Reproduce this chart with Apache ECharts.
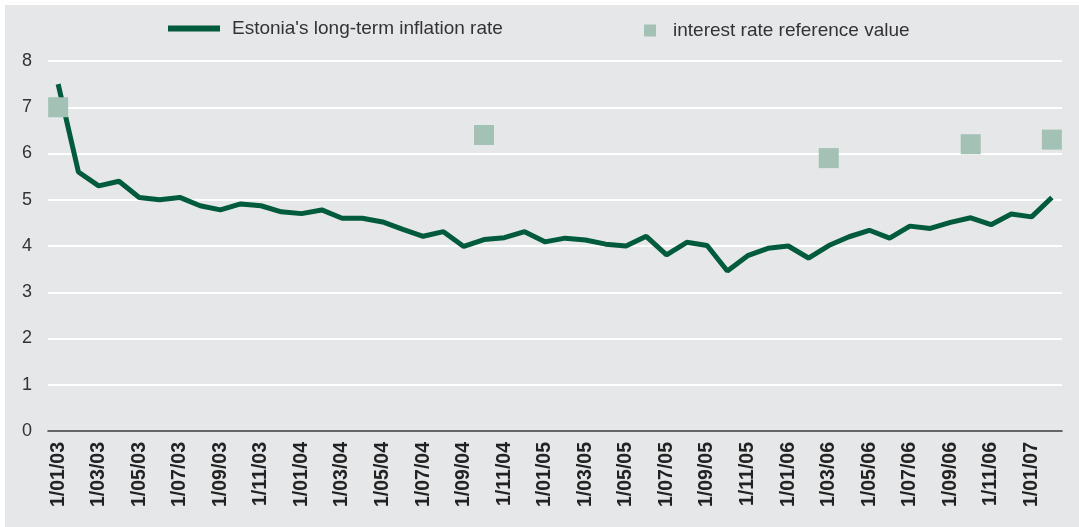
<!DOCTYPE html>
<html>
<head>
<meta charset="utf-8">
<script src="https://cdn.jsdelivr.net/npm/echarts@6/dist/echarts.min.js"></script>
<style>
  html, body { margin: 0; padding: 0; background: #ffffff; }
  #bg { position: absolute; left: 5px; top: 5px; width: 1074px; height: 522px; background: #e6e7e9; }
  #main { position: absolute; left: 0; top: 0; width: 1079px; height: 527px; }
</style>
</head>
<body>
<div id="bg"></div>
<div id="main"></div>
<script>
// monthly categories, Jan 2003 - Feb 2007
const months = [
  '1/01/03', '1/02/03', '1/03/03', '1/04/03', '1/05/03', '1/06/03', '1/07/03', '1/08/03', '1/09/03', '1/10/03', '1/11/03', '1/12/03',
  '1/01/04', '1/02/04', '1/03/04', '1/04/04', '1/05/04', '1/06/04', '1/07/04', '1/08/04', '1/09/04', '1/10/04', '1/11/04', '1/12/04',
  '1/01/05', '1/02/05', '1/03/05', '1/04/05', '1/05/05', '1/06/05', '1/07/05', '1/08/05', '1/09/05', '1/10/05', '1/11/05', '1/12/05',
  '1/01/06', '1/02/06', '1/03/06', '1/04/06', '1/05/06', '1/06/06', '1/07/06', '1/08/06', '1/09/06', '1/10/06', '1/11/06', '1/12/06',
  '1/01/07', '1/02/07'
]

const inflation = [
  7.5, 5.6, 5.3, 5.4, 5.05, 5.0, 5.05, 4.87, 4.78, 4.91, 4.87, 4.74,
  4.7, 4.78, 4.6, 4.6, 4.52, 4.36, 4.21, 4.31, 3.99, 4.14, 4.18, 4.31,
  4.09, 4.17, 4.13, 4.04, 4.0, 4.21, 3.81, 4.08, 4.01, 3.46, 3.79, 3.95,
  4.0, 3.74, 4.01, 4.2, 4.34, 4.17, 4.43, 4.38, 4.51, 4.61, 4.46, 4.69,
  4.63, 5.05
]

const refMonths = ['1/01/03', '1/10/04', '1/03/06', '1/10/06', '1/02/07']
const refValues = [7.0, 6.4, 5.9, 6.2, 6.3]

const yTicks = [0, 8, 1] // min, max, interval

const FONT = '"Liberation Sans", Arial, Helvetica, sans-serif'

const chart = echarts.init(document.getElementById('main'))

chart.setOption({
  animation: false,
  backgroundColor: 'transparent',
  textStyle: { fontFamily: FONT },
  legend: [
    {
      left: 168,
      top: 19,
      padding: 0,
      icon: 'rect',
      itemWidth: 52,
      itemHeight: 6,
      data: ['Estonia\'s long-term inflation rate'],
      textStyle: { fontSize: 19, color: '#333333', fontFamily: FONT, padding: [0, 0, 0, 7] }
    },
    {
      left: 644,
      top: 21,
      padding: 0,
      icon: 'rect',
      itemWidth: 12,
      itemHeight: 12,
      data: ['interest rate reference value'],
      textStyle: { fontSize: 19, color: '#333333', fontFamily: FONT, padding: [0, 0, 0, 12] }
    }
  ],
  grid: {
    left: 48,
    right: 17,
    top: 61,
    bottom: 96
  },
  xAxis: {
    type: 'category',
    data: months,
    boundaryGap: true,
    axisLine: { show: true, lineStyle: { color: '#333333', width: 1.5 } },
    axisTick: { show: false },
    axisLabel: {
      interval: 1,
      rotate: 90,
      margin: 11,
      fontSize: 19.5,
      fontWeight: 'bold',
      color: '#222222',
      fontFamily: FONT
    },
    splitLine: { show: false }
  },
  yAxis: {
    type: 'value',
    min: yTicks[0],
    max: yTicks[1],
    interval: yTicks[2],
    axisLine: { show: false },
    axisTick: { show: false },
    axisLabel: { margin: 16, fontSize: 18, color: '#333333', fontFamily: FONT },
    splitLine: { lineStyle: { color: '#ffffff', width: 2 } }
  },
  series: [
    {
      name: 'Estonia\'s long-term inflation rate',
      type: 'line',
      data: inflation,
      symbol: 'none',
      itemStyle: { color: '#005a3c' },
      lineStyle: { color: '#005a3c', width: 5 },
      z: 2
    },
    {
      name: 'interest rate reference value',
      type: 'scatter',
      data: refMonths.map((m, i) => [m, refValues[i]]),
      symbol: 'rect',
      symbolSize: 20,
      itemStyle: { color: '#a3c1b4', opacity: 1 },
      z: 3
    }
  ]
})
</script>
</body>
</html>
